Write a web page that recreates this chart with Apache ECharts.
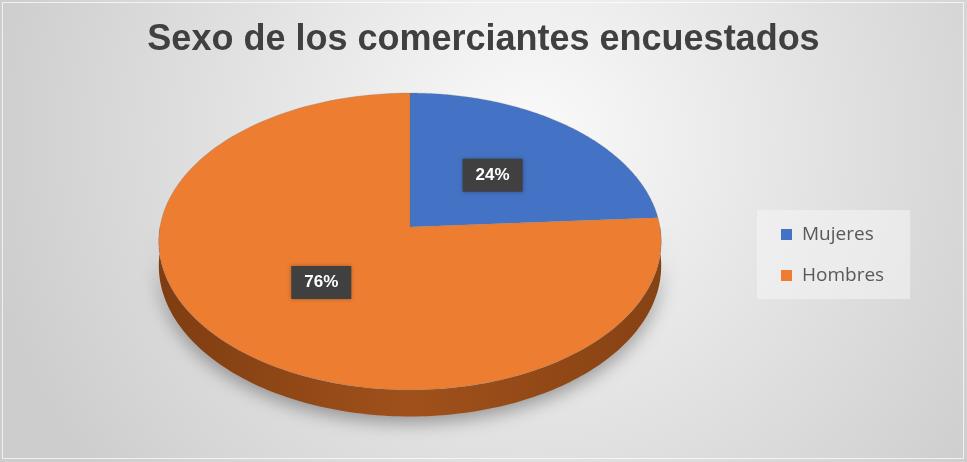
<!DOCTYPE html>
<html><head><meta charset="utf-8">
<script src="https://cdn.jsdelivr.net/npm/echarts@6/dist/echarts.min.js"></script>
<style>html,body{margin:0;padding:0;background:#fff}#c{width:967px;height:462px}</style>
</head><body><div id="c"></div>
<script>
const titleText = 'Sexo de los comerciantes encuestados';
const categories = ['Mujeres', 'Hombres'];
const values = [24, 76];
const colors = ['#4472C4', '#ED7D31'];
const sideColors = ['#2f5597', '#a0511b'];

const total = values.reduce((a, b) => a + b, 0);
// perspective-disc geometry (layout only)
const CX = 410, CY = 227, KX = 250, KY = 147, P = 0.0975, T = 24;
function proj(theta, r) {
  const s = Math.sin(theta), c = Math.cos(theta);
  const d = 1 + P * r * c;
  return [CX + KX * r * s / d, CY - KY * r * c / d, d];
}
function makeRender(i) {
  return function (params, api) {
    const v = api.value(0);
    let start = 0;
    for (let k = 0; k < i; k++) start += values[k];
    const a0 = start / total * 2 * Math.PI, a1 = (start + v) / total * 2 * Math.PI;
    const N = 160;
    const children = [];
    const s0 = Math.max(a0, Math.PI / 2), s1 = Math.min(a1, 3 * Math.PI / 2);
    if (s1 > s0) {
      const up = [], lo = [];
      for (let j = 0; j <= N; j++) {
        const t = s0 + (s1 - s0) * j / N;
        const p = proj(t, 1);
        up.push([p[0], p[1]]);
        lo.push([p[0], p[1] + T / p[2]]);
      }
      children.push({
        type: 'polygon', z2: 1,
        shape: { points: up.concat(lo.reverse()) },
        style: {
          fill: {
            type: 'linear', x: 0, y: 0, x2: 1, y2: 0,
            colorStops: [
              { offset: 0, color: '#7f3d11' },
              { offset: 0.5, color: sideColors[i] },
              { offset: 1, color: '#874213' }
            ]
          },
          shadowBlur: 18, shadowColor: 'rgba(0,0,0,0.35)', shadowOffsetY: 6
        }
      });
    }
    const top = [[CX, CY]];
    for (let j = 0; j <= N; j++) {
      const t = a0 + (a1 - a0) * j / N;
      const p = proj(t, 1);
      top.push([p[0], p[1]]);
    }
    children.push({
      type: 'polygon', z2: 2,
      shape: { points: top },
      style: { fill: api.visual('color'), stroke: 'rgba(120,120,120,0.35)', lineWidth: 0.8 }
    });
    const lp = proj((a0 + a1) / 2, 0.5);
    children.push({
      type: 'text', z2: 3, x: lp[0], y: lp[1],
      style: {
        text: Math.round(v / total * 100) + '%',
        fill: '#ffffff', font: 'bold 17px "Liberation Sans", Arial, sans-serif',
        align: 'center', verticalAlign: 'middle',
        backgroundColor: '#404040', padding: [8, 13, 8, 13],
        shadowBlur: 4, shadowColor: 'rgba(0,0,0,0.3)'
      }
    });
    return { type: 'group', children: children };
  };
}

const chart = echarts.init(document.getElementById('c'));
chart.setOption({
  backgroundColor: {
    type: 'radial', x: 0.55, y: 0.3, r: 1.2,
    colorStops: [{ offset: 0, color: '#fafafa' }, { offset: 1, color: '#cdcdcd' }]
  },
  animation: false,
  title: {
    text: titleText, left: 'center', top: 17,
    textStyle: { fontSize: 36, fontWeight: 'bold', color: '#404040', fontFamily: '"Liberation Sans", Arial, sans-serif' }
  },
  legend: {
    orient: 'vertical', left: 757, top: 210,
    padding: [15, 26, 14, 24], itemGap: 22,
    itemWidth: 11, itemHeight: 11, icon: 'rect',
    backgroundColor: 'rgba(245,245,245,0.55)',
    textStyle: { fontSize: 19, color: '#595959', fontFamily: '"Open Sans", sans-serif', padding: [0, 0, 0, 5] },
    data: categories
  },
  graphic: [{
    type: 'rect', shape: { x: 2.5, y: 2.5, width: 961, height: 456 },
    style: { fill: 'none', stroke: 'rgba(255,255,255,0.7)', lineWidth: 1 }, silent: true
  }],
  series: categories.map((name, i) => ({
    type: 'custom', name: name, coordinateSystem: 'none',
    itemStyle: { color: colors[i] },
    renderItem: makeRender(i),
    data: [[values[i]]]
  }))
});
</script>
</body></html>
